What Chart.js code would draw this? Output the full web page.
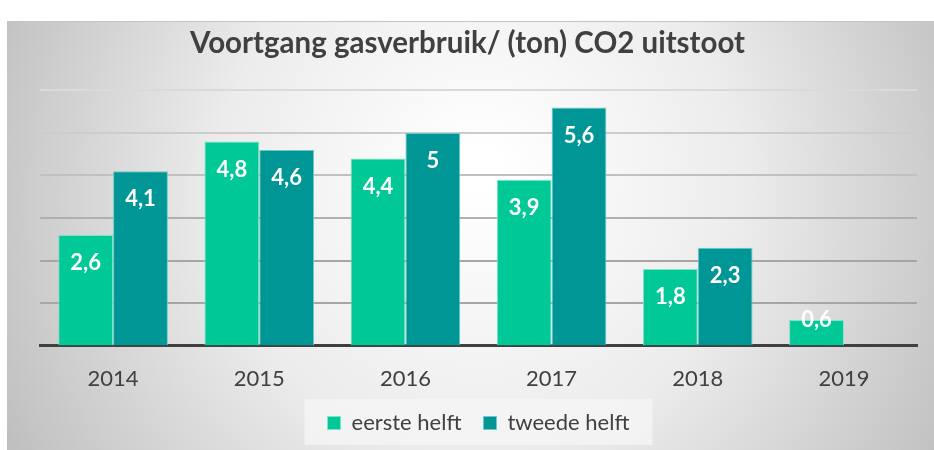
<!DOCTYPE html>
<html>
<head>
<meta charset="utf-8">
<script src="https://cdn.jsdelivr.net/npm/chart.js@4"></script>
<style>
  html, body { margin: 0; padding: 0; background: #fff; }
  #wrap { width: 934px; height: 450px; }
</style>
</head>
<body>
<div id="wrap"><canvas id="chart" width="934" height="450"></canvas></div>
<script>
// data
const years = ['2014', '2015', '2016', '2017', '2018', '2019'];
const eersteHelft = [2.6, 4.8, 4.4, 3.9, 1.8, 0.6];
const tweedeHelft = [4.1, 4.6, 5.0, 5.6, 2.3, null];
const seriesNames = ['eerste helft', 'tweede helft'];

const FONT = 'Lato, "Noto Sans", sans-serif';

// achtergrond met verloop
const bgPlugin = {
    id: 'bg',
    beforeDraw(chart) {
        const ctx = chart.ctx;
        ctx.save();
        ctx.fillStyle = '#fff';
        ctx.fillRect(0, 0, chart.width, chart.height);
        const g = ctx.createRadialGradient(480, 170, 20, 480, 210, 560);
        g.addColorStop(0, '#ffffff');
        g.addColorStop(0.45, '#ececec');
        g.addColorStop(1, '#bababa');
        ctx.fillStyle = g;
        ctx.fillRect(7, 21, chart.width - 7, chart.height - 21);
        ctx.strokeStyle = '#c4c4c4';
        ctx.beginPath();
        ctx.moveTo(7, 21.5);
        ctx.lineTo(chart.width, 21.5);
        ctx.stroke();
        // legenda vak
        const lg = chart.legend;
        if (lg) {
            const cx = lg.left + lg.width / 2;
            ctx.fillStyle = 'rgba(245,245,245,0.8)';
            ctx.fillRect(cx - 174, 399, 348, 46);
        }
        ctx.restore();
    }
};

// legenda iets omhoog zodat de ruimte tussen de items groter kan,
// titel iets naar links (midden van het hele vlak)
const shiftPlugin = {
    id: 'shift',
    afterLayout(chart) {
        const lg = chart.legend;
        if (lg) {
            lg.top -= 14;
            lg.bottom -= 14;
        }
        const t = chart.titleBlock;
        if (t) {
            t.left -= 22;
            t.right -= 0;
        }
    }
};

// waardelabels in de balken
const labelPlugin = {
    id: 'valueLabels',
    afterDatasetsDraw(chart) {
        const ctx = chart.ctx;
        ctx.save();
        ctx.font = 'bold 22px ' + FONT;
        ctx.fillStyle = '#fff';
        ctx.textAlign = 'center';
        ctx.textBaseline = 'middle';
        chart.data.datasets.forEach((ds, i) => {
            chart.getDatasetMeta(i).data.forEach((bar, j) => {
                const v = ds.data[j];
                if (v == null) return;
                const h = bar.base - bar.y;
                const y = h > 50 ? bar.y + 28 : bar.y;
                ctx.fillText(String(v).replace('.', ','), bar.x, y);
            });
        });
        ctx.restore();
    }
};

const ctx = document.getElementById('chart').getContext('2d');
new Chart(ctx, {
    type: 'bar',
    data: {
        labels: years,
        datasets: [
            {
                label: seriesNames[0],
                data: eersteHelft,
                backgroundColor: '#00c896',
                borderColor: '#7fe3c9',
                borderWidth: 1,
                borderSkipped: 'bottom'
            },
            {
                label: seriesNames[1],
                data: tweedeHelft,
                backgroundColor: '#009696',
                borderColor: '#6cc9c9',
                borderWidth: 1,
                borderSkipped: 'bottom'
            }
        ]
    },
    options: {
        responsive: false,
        animation: false,
        layout: { padding: { left: 40, right: 17, top: 20, bottom: 6 } },
        datasets: { bar: { categoryPercentage: 0.75, barPercentage: 1 } },
        scales: {
            y: {
                min: 0,
                max: 6,
                ticks: { display: false, stepSize: 1 },
                border: { display: false },
                grid: {
                    drawTicks: false,
                    color: c => ['#404040', '#a6a6a6', '#a6a6a6', '#b0b0b0', '#c0c0c0', '#cccccc', '#dadada'][c.index],
                    lineWidth: c => c.index === 0 ? 0 : 2
                }
            },
            x: {
                grid: { display: false },
                border: { color: '#404040', width: 3 },
                ticks: { color: '#404040', font: { family: FONT, size: 22 }, padding: 12 }
            }
        },
        plugins: {
            title: {
                display: true,
                text: 'Voortgang gasverbruik/ (ton) CO2 uitstoot',
                color: '#404040',
                font: { family: FONT, size: 29.5, weight: 'bold' },
                padding: { top: 6, bottom: 29 }
            },
            legend: {
                position: 'bottom',
                maxHeight: 40,
                labels: {
                    color: '#404040',
                    font: { family: FONT, size: 22 },
                    boxWidth: 13,
                    boxHeight: 13,
                    padding: 22
                }
            },
            tooltip: { enabled: false }
        }
    },
    plugins: [bgPlugin, shiftPlugin, labelPlugin]
});
</script>
</body>
</html>
